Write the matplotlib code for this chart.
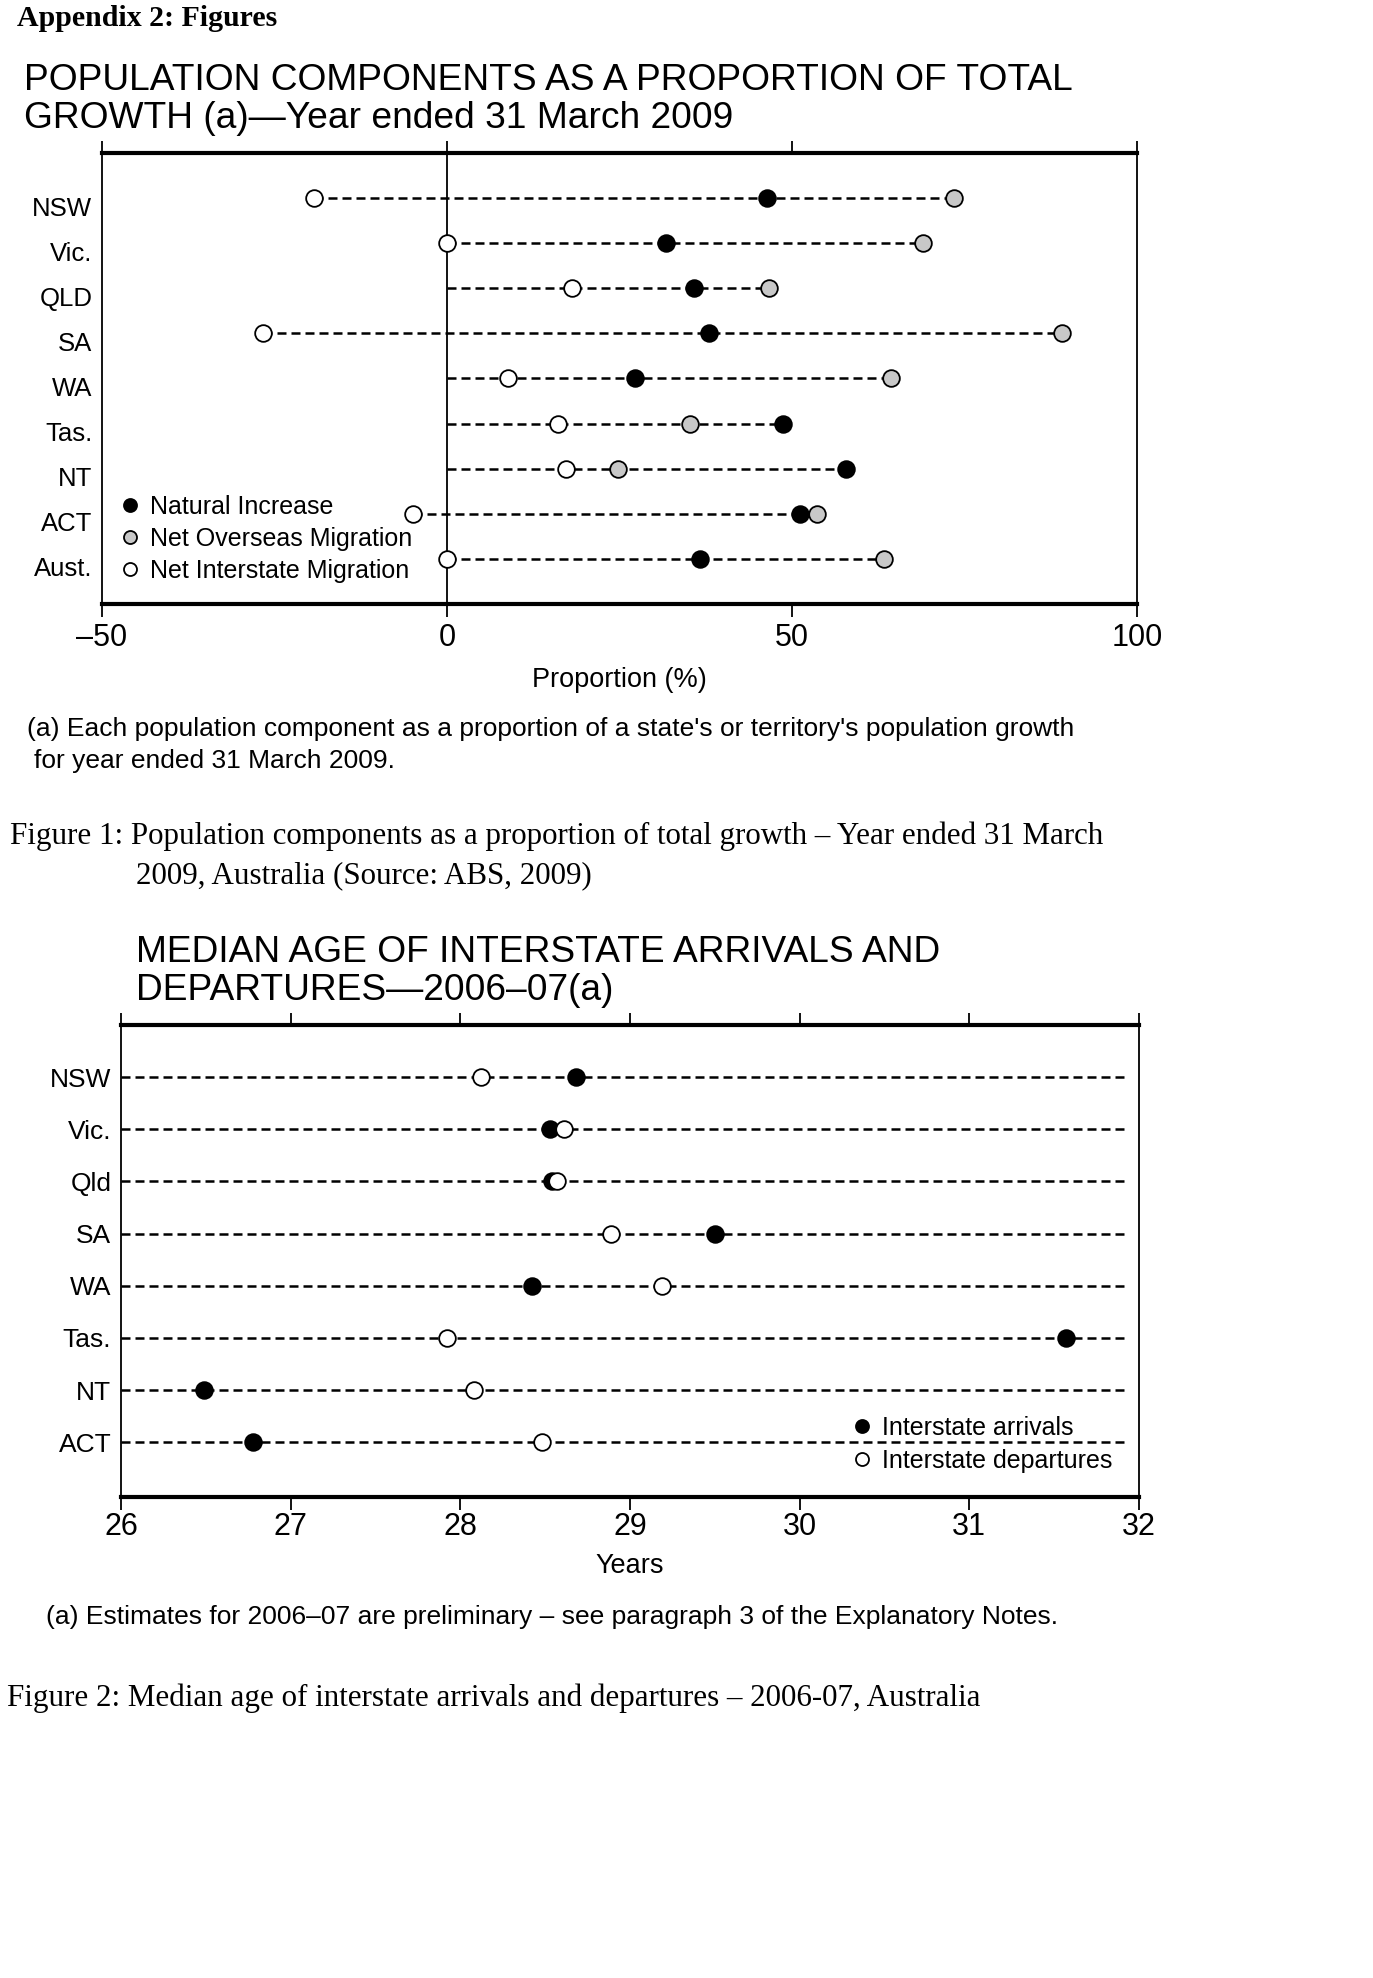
import matplotlib
matplotlib.use("Agg")
import matplotlib.pyplot as plt
import matplotlib.transforms as mtransforms
import numpy as np

# ---------------- data ----------------
states1 = ["NSW", "Vic.", "QLD", "SA", "WA", "Tas.", "NT", "ACT", "Aust."]
natural_increase = [46.4, 31.8, 35.8, 38.0, 27.2, 48.7, 57.8, 51.1, 36.7]
net_overseas = [73.5, 69.0, 46.7, 89.2, 64.4, 35.2, 24.8, 53.6, 63.3]
net_interstate = [-19.3, 0.0, 18.1, -26.6, 8.9, 16.1, 17.3, -4.9, 0.0]
xticks1 = [-50, 0, 50, 100]
xticklabels1 = ["\u201350", "0", "50", "100"]

states2 = ["NSW", "Vic.", "Qld", "SA", "WA", "Tas.", "NT", "ACT"]
arrivals = [28.68, 28.53, 28.54, 29.50, 28.42, 31.57, 26.49, 26.78]
departures = [28.12, 28.61, 28.57, 28.89, 29.19, 27.92, 28.08, 28.48]
xticks2 = [26, 27, 28, 29, 30, 31, 32]

# ---------------- figure ----------------
W, H = 1373, 1978
DPI = 100
fig = plt.figure(figsize=(W / DPI, H / DPI), dpi=DPI)
fig.patch.set_facecolor("white")

SANS = ["Liberation Sans", "DejaVu Sans"]
SERIF = ["Liberation Serif", "DejaVu Serif"]


def ftext(x, y, s, **kw):
    kw.setdefault("va", "center")
    kw.setdefault("ha", "left")
    return fig.text(x / W, 1 - y / H, s, **kw)


def axes_px(left, top, right, bottom):
    return fig.add_axes([left / W, 1 - bottom / H, (right - left) / W, (bottom - top) / H])


GREY = "#c8c8c8"
MS = 12
DLW = 1.8
DASH = (3.6, 2.0)

# ---------------- header ----------------
ftext(17, 19, "Appendix 2: Figures", family=SERIF, fontsize=21.5, fontweight="bold")

ftext(24, 80, "POPULATION COMPONENTS AS A PROPORTION OF TOTAL", family=SANS, fontsize=26.7)
ftext(24, 118, "GROWTH (a)\u2014Year ended 31 March 2009", family=SANS, fontsize=26.7)

# ---------------- chart 1 ----------------
ax1 = axes_px(102, 153, 1137, 604)
y1 = np.arange(len(states1))
vals = np.array([natural_increase, net_overseas, net_interstate])
lo = np.minimum(vals.min(axis=0), 0)
hi = vals.max(axis=0)
for yi, a, b in zip(y1, lo, hi):
    ax1.plot([a, b], [yi, yi], color="black", lw=DLW, dashes=DASH, zorder=1)
ax1.axvline(0, color="black", lw=1.3, zorder=1)

ax1.plot(natural_increase, y1, "o", ms=MS, mfc="black", mec="black", mew=1.3,
         zorder=3, label="Natural Increase")
ax1.plot(net_overseas, y1, "o", ms=MS, mfc=GREY, mec="black", mew=1.3,
         zorder=3, label="Net Overseas Migration")
ax1.plot(net_interstate, y1, "o", ms=MS, mfc="white", mec="black", mew=1.3,
         zorder=3, label="Net Interstate Migration")

ax1.set_xlim(-50, 100)
ax1.set_ylim(9.0, -1.0)
ax1.set_xticks(xticks1)
ax1.set_xticklabels(xticklabels1, family=SANS, fontsize=22)
ax1.set_yticks(y1)
ax1.set_yticklabels(states1, family=SANS, fontsize=18.5)
ax1.tick_params(axis="x", direction="out", length=9, width=1.3, top=True,
                bottom=True, pad=5)
ax1.tick_params(axis="y", length=0, pad=7)
for lab in ax1.get_yticklabels():
    lab.set_transform(lab.get_transform() +
                      mtransforms.ScaledTranslation(0, -8 / DPI, fig.dpi_scale_trans))
ax1.spines["top"].set_linewidth(3.0)
ax1.spines["bottom"].set_linewidth(3.0)
ax1.spines["left"].set_linewidth(1.3)
ax1.spines["right"].set_linewidth(1.3)
ax1.set_xlabel("Proportion (%)", family=SANS, fontsize=19.5, labelpad=10)

leg1 = ax1.legend(loc="upper left", bbox_to_anchor=(0.016, 0.242), frameon=False,
                  prop={"family": SANS, "size": 18}, handlelength=0.9,
                  handletextpad=0.35, labelspacing=0.32, borderpad=0,
                  borderaxespad=0, markerscale=0.78)

ftext(27, 729, "(a) Each population component as a proportion of a state's or territory's population growth",
      family=SANS, fontsize=19)
ftext(34, 761, "for year ended 31 March 2009.", family=SANS, fontsize=19)

ftext(10, 836, "Figure 1: Population components as a proportion of total growth \u2013 Year ended 31 March",
      family=SERIF, fontsize=22.3)
ftext(136, 876, "2009, Australia (Source: ABS, 2009)", family=SERIF, fontsize=22.3)

# ---------------- chart 2 ----------------
ftext(136, 953, "MEDIAN AGE OF INTERSTATE ARRIVALS AND", family=SANS, fontsize=26.7)
ftext(136, 991, "DEPARTURES\u20142006\u201307(a)", family=SANS, fontsize=26.7)

ax2 = axes_px(121, 1025, 1139, 1497)
y2 = np.arange(len(states2))
for yi in y2:
    ax2.axhline(yi, xmin=0, xmax=0.99, color="black", lw=DLW, dashes=DASH, zorder=1)
ax2.plot(arrivals, y2, "o", ms=MS, mfc="black", mec="black", mew=1.3, zorder=3,
         label="Interstate arrivals")
ax2.plot(departures, y2, "o", ms=MS, mfc="white", mec="black", mew=1.3, zorder=3,
         label="Interstate departures")
ax2.set_xlim(26, 32)
ax2.set_ylim(8.05, -1.0)
ax2.set_xticks(xticks2)
ax2.set_xticklabels([str(t) for t in xticks2], family=SANS, fontsize=22)
ax2.set_yticks(y2)
ax2.set_yticklabels(states2, family=SANS, fontsize=19)
ax2.tick_params(axis="x", direction="out", length=9, width=1.3, top=True,
                bottom=True, pad=2)
ax2.tick_params(axis="y", length=0, pad=7)
ax2.spines["top"].set_linewidth(3.0)
ax2.spines["bottom"].set_linewidth(3.0)
ax2.spines["left"].set_linewidth(1.3)
ax2.spines["right"].set_linewidth(1.3)
ax2.set_xlabel("Years", family=SANS, fontsize=19.5, labelpad=8)

leg2 = ax2.legend(loc="upper left", bbox_to_anchor=(0.717, 0.172), frameon=False,
                  prop={"family": SANS, "size": 18}, handlelength=0.9,
                  handletextpad=0.35, labelspacing=0.36, borderpad=0,
                  borderaxespad=0, markerscale=0.78)

ftext(46, 1617, "(a) Estimates for 2006\u201307 are preliminary \u2013 see paragraph 3 of the Explanatory Notes.",
      family=SANS, fontsize=19)
ftext(7, 1698, "Figure 2: Median age of interstate arrivals and departures \u2013 2006-07, Australia",
      family=SERIF, fontsize=22.3)

fig.savefig("out.png", dpi=DPI, facecolor="white")
